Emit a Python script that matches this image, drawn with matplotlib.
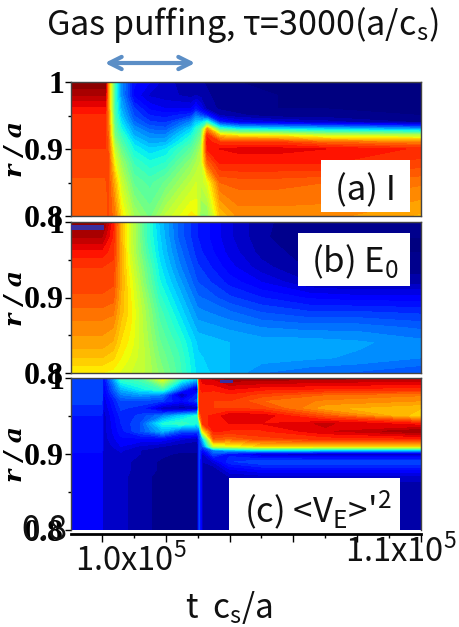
"""Gas puffing time traces of I, E_0 and <V_E>'^2 against radius and time."""

import matplotlib

matplotlib.use("Agg")
import matplotlib.pyplot as plt
import numpy as np
from matplotlib.patches import FancyArrowPatch, Rectangle

plt.rcParams["font.family"] = ["Noto Sans CJK JP", "DejaVu Sans"]
plt.rcParams["mathtext.fontset"] = "custom"
plt.rcParams["mathtext.rm"] = "Noto Sans CJK JP"

W, H = 460, 627

# --- Data (colour value 0-1) -------------------------------------------------
T_A = [99031, 100000, 100100, 100200, 100400, 100600, 101000, 101500, 102000,
       102800, 102950, 103100, 103300, 103700, 104300, 105500, 107000, 110000]
R_A = [1.0, 0.98, 0.96, 0.95, 0.94, 0.93, 0.92, 0.91, 0.90, 0.88, 0.85, 0.80]
I_A = [
    [1.00, 1.00, 1.00, .75, .42, .27, .13, .10, .06, .03, .03, .03, .02, .01, .00, .00, .00, .00],
    [.95, .95, .95, .75, .42, .27, .12, .07, .06, .04, .05, .04, .03, .01, .01, .00, .00, .00],
    [.89, .89, .89, .76, .43, .30, .18, .12, .10, .10, .14, .10, .04, .02, .01, .00, .00, .00],
    [.87, .87, .87, .77, .44, .32, .20, .15, .14, .17, .24, .20, .15, .05, .03, .01, .01, .00],
    [.87, .87, .87, .78, .46, .35, .23, .18, .17, .26, .32, .34, .40, .16, .10, .08, .06, .02],
    [.86, .86, .86, .79, .48, .38, .27, .22, .21, .33, .39, .44, .75, .42, .36, .34, .32, .28],
    [.86, .86, .86, .80, .50, .42, .30, .26, .26, .38, .43, .48, .87, .70, .66, .65, .60, .58],
    [.86, .86, .86, .81, .54, .45, .34, .29, .30, .42, .47, .52, .89, .85, .85, .85, .80, .77],
    [.85, .85, .85, .82, .58, .48, .37, .33, .35, .46, .50, .56, .88, .90, .91, .91, .90, .87],
    [.84, .84, .84, .83, .64, .54, .42, .38, .40, .52, .55, .58, .80, .88, .88, .88, .88, .84],
    [.82, .82, .82, .83, .72, .60, .47, .44, .48, .58, .60, .58, .62, .80, .81, .81, .80, .78],
    [.80, .80, .80, .83, .78, .67, .55, .49, .58, .66, .65, .52, .52, .70, .76, .76, .76, .72],
]

T_B = [99031, 100000, 100350, 100600, 100900, 101400, 101800, 102400, 103000,
       104000, 105000, 106500, 108000, 110000]
R_B = [1.0, 0.98, 0.96, 0.94, 0.92, 0.90, 0.88, 0.86, 0.84, 0.82, 0.80]
E_B = [
    [1.00, 1.00, .88, .72, .60, .42, .32, .22, .15, .08, .03, .01, .01, .01],
    [.95, .95, .87, .72, .60, .42, .33, .22, .15, .08, .03, .00, .00, .00],
    [.89, .89, .86, .73, .60, .44, .34, .24, .16, .09, .04, .01, .00, .00],
    [.85, .85, .84, .73, .62, .47, .36, .26, .18, .11, .06, .02, .01, .01],
    [.84, .84, .83, .73, .64, .49, .38, .29, .20, .14, .10, .05, .04, .04],
    [.82, .82, .81, .72, .65, .52, .41, .32, .23, .18, .15, .12, .11, .11],
    [.79, .79, .78, .71, .66, .54, .44, .35, .26, .23, .20, .18, .18, .17],
    [.76, .76, .75, .69, .65, .55, .46, .38, .29, .27, .25, .24, .24, .22],
    [.74, .74, .72, .67, .64, .56, .48, .41, .32, .30, .29, .29, .28, .26],
    [.70, .70, .68, .65, .62, .57, .50, .43, .33, .30, .29, .28, .27, .25],
    [.65, .65, .64, .62, .60, .57, .52, .44, .34, .30, .25, .23, .22, .20],
]

T_C = [99031, 100000, 100050, 100600, 101200, 101900, 102500, 102950, 103000,
       103050, 103150, 103500, 104000, 105000, 107000, 110000]
R_C = [1.0, 0.985, 0.978, 0.97, 0.96, 0.95, 0.94, 0.93, 0.92, 0.91, 0.905, 0.90,
       0.89, 0.88, 0.87, 0.85, 0.80]
V_C = [
    [.20, .20, .12, .42, .45, .65, .42, .35, .35, .87, .92, .93, .97, .97, .96, .95],
    [.20, .20, .10, .30, .36, .42, .20, .05, .05, .87, .88, .88, .90, .88, .87, .86],
    [.19, .19, .09, .25, .28, .25, .03, .15, .15, .87, .87, .86, .87, .84, .80, .78],
    [.18, .18, .08, .20, .20, .18, .12, .18, .18, .87, .87, .85, .85, .80, .77, .75],
    [.17, .17, .07, .18, .16, .05, .03, .04, .04, .87, .87, .85, .85, .84, .73, .70],
    [.15, .15, .06, .16, .18, .25, .33, .38, .38, .75, .87, .88, .92, .92, .82, .68],
    [.15, .15, .06, .15, .20, .38, .42, .38, .38, .45, .85, .90, .90, .90, .93, .88],
    [.14, .14, .06, .14, .20, .30, .20, .20, .20, .20, .65, .88, .87, .87, .92, .97],
    [.14, .14, .06, .12, .12, .12, .08, .06, .06, .18, .30, .82, .80, .84, .86, .87],
    [.13, .13, .05, .10, .07, .05, .03, .03, .03, .18, .20, .60, .62, .68, .68, .68],
    [.13, .13, .05, .08, .05, .03, .03, .03, .03, .18, .12, .25, .30, .35, .33, .32],
    [.12, .12, .05, .07, .05, .03, .02, .02, .02, .18, .06, .20, .14, .06, .05, .05],
    [.12, .12, .05, .06, .04, .02, .02, .02, .02, .18, .05, .08, .17, .20, .20, .20],
    [.12, .12, .05, .06, .04, .02, .02, .02, .02, .18, .04, .03, .10, .13, .13, .13],
    [.12, .12, .05, .06, .03, .02, .02, .02, .02, .18, .04, .03, .05, .06, .06, .06],
    [.12, .12, .05, .06, .03, .02, .02, .02, .02, .18, .04, .03, .03, .04, .03, .03],
    [.12, .12, .05, .06, .03, .02, .02, .02, .02, .18, .04, .03, .03, .03, .03, .03],
]

R_TICKS = [0.8, 0.9, 1.0]
R_TICK_LABELS = ["0.8", "0.9", "1"]
R_MINOR = [0.85, 0.95]
T_MAJOR = [100000, 102000, 104000, 106000, 108000, 110000]
T_MINOR = [101000, 103000, 105000, 107000, 109000]
T_LIMITS = (99031, 110000)
LEVELS = np.linspace(0, 1, 41)


def fx(px):
    return px / W


def fy(py):
    return 1 - py / H


def panel(fig, left, top, right, bottom, t, r, z):
    ax = fig.add_axes([fx(left), fy(bottom), fx(right - left), (bottom - top) / H])
    ax.contourf(t, r, np.array(z), levels=LEVELS, cmap="jet", extend="both")
    ax.set_xlim(*T_LIMITS)
    ax.set_ylim(0.8, 1.0)
    ax.set_yticks(R_TICKS)
    ax.set_yticklabels(R_TICK_LABELS, family="Liberation Serif", fontsize=23, fontweight="bold")
    ax.set_yticks(R_MINOR, minor=True)
    ax.tick_params(axis="y", which="major", length=4, width=1, pad=1)
    ax.tick_params(axis="y", which="minor", length=2, width=1)
    ax.set_xticks([])
    for s in ax.spines.values():
        s.set_color("#444444")
        s.set_linewidth(1)
    ax.set_ylabel("r / a", family="DejaVu Serif", style="italic", fontweight="bold", fontsize=18)
    ax.yaxis.set_label_coords(-0.125, 0.5)
    return ax


def box(fig, x0, y0, x1, y1):
    fig.add_artist(Rectangle((fx(x0), fy(y1)), fx(x1 - x0), (y1 - y0) / H,
                             transform=fig.transFigure, color="white", zorder=5, lw=0))


def label(fig, x, y, s, size, ha="center"):
    fig.text(fx(x), fy(y), s, fontsize=size, ha=ha, va="center", zorder=6, color="#111111")


def main():
    fig = plt.figure(figsize=(W / 100, H / 100), dpi=100)

    panel(fig, 71, 82, 421, 216, T_A, R_A, I_A)
    ax_b = panel(fig, 71, 222, 421, 373, T_B, R_B, E_B)
    ax_c = panel(fig, 71, 378, 421, 530, T_C, R_C, V_C)

    # small dark marks left in the source image at the panel tops
    ax_b.axhspan(0.99, 0.996, xmin=0, xmax=0.095, color="#3a2f9e", zorder=3, lw=0)
    ax_c.axhspan(0.993, 0.997, xmin=0.426, xmax=0.463, color="#3a2f9e", zorder=3, lw=0)

    ax_c.spines["bottom"].set_position(("outward", 3))
    ax_c.spines["bottom"].set_color("black")
    ax_c.spines["bottom"].set_linewidth(2)
    ax_c.set_xticks(T_MAJOR)
    ax_c.set_xticks(T_MINOR, minor=True)
    ax_c.set_xticklabels([])
    ax_c.tick_params(axis="x", which="major", length=6, width=1)
    ax_c.tick_params(axis="x", which="minor", length=3, width=1)

    box(fig, 321, 160, 410, 212)
    box(fig, 298, 233, 410, 286)
    box(fig, 229, 478, 400, 530)

    label(fig, 366, 191, "(a) I", 25)
    label(fig, 355, 262, r"(b) E$_{\mathrm{0}}$", 25)
    label(fig, 318, 510, r"(c) <V$_{\mathrm{E}}$>$'^{\mathrm{2}}$", 25)

    label(fig, 242, 25, r"Gas puffing, τ=3000(a/c$_{\mathrm{s}}$)", 24.5)
    label(fig, 131, 561, r"1.0x10$^{\mathrm{5}}$", 23.5)
    label(fig, 401, 552, r"1.1x10$^{\mathrm{5}}$", 23.5)
    label(fig, 229, 607, r"t  c$_{\mathrm{s}}$/a", 24)
    label(fig, 44, 531, "0.8", 24)

    fig.add_artist(FancyArrowPatch(
        (fx(102), fy(63)), (fx(198), fy(63)), transform=fig.transFigure,
        arrowstyle="<->", mutation_scale=22, color="#5b8ec6", lw=3, zorder=6))

    fig.savefig("out.png", dpi=100)


if __name__ == "__main__":
    main()
